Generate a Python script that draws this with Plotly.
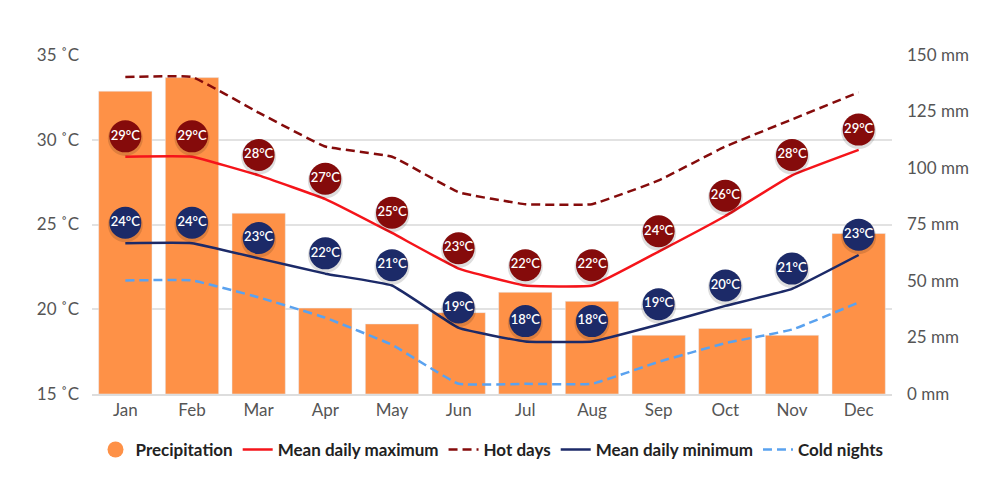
import plotly.graph_objects as go

months = ["Jan", "Feb", "Mar", "Apr", "May", "Jun", "Jul", "Aug", "Sep", "Oct", "Nov", "Dec"]

# precipitation, mm
precipitation = [134, 140, 80, 38, 31, 36, 45, 41, 26, 29, 26, 71]

# temperatures, deg C
mean_max = [29.0, 29.0, 27.9, 26.5, 24.5, 22.4, 21.4, 21.4, 23.4, 25.5, 27.9, 29.4]
hot_days = [33.7, 33.7, 31.6, 29.6, 29.0, 26.9, 26.2, 26.2, 27.6, 29.6, 31.2, 32.8]
mean_min = [23.9, 23.9, 23.0, 22.1, 21.4, 18.9, 18.1, 18.1, 19.1, 20.2, 21.2, 23.2]
cold_nights = [21.7, 21.7, 20.7, 19.5, 17.9, 15.6, 15.6, 15.6, 16.9, 18.0, 18.8, 20.4]

max_labels = [29, 29, 28, 27, 25, 23, 22, 22, 24, 26, 28, 29]
min_labels = [24, 24, 23, 22, 21, 19, 18, 18, 19, 20, 21, 23]

ORANGE = "#fe9147"
RED = "#f5141a"
DARK_RED = "#850b0b"
NAVY = "#1c2a68"
LIGHT_BLUE = "#5aa2ef"
GREY = "#555555"
FONT = "Lato"

BUBBLE_LIFT = 1.2  # bubbles sit a little above their line

fig = go.Figure()

fig.add_trace(go.Bar(x=months, y=precipitation, marker_color=ORANGE, width=0.8,
                     yaxis="y", showlegend=False, hoverinfo="y"))

# legend entry for the bars (round symbol)
fig.add_trace(go.Scatter(x=[None], y=[None], mode="markers", name="Precipitation",
                         marker=dict(color=ORANGE, size=17, symbol="circle"), yaxis="y2"))

line_specs = [
    ("Mean daily maximum", mean_max, RED, "solid"),
    ("Hot days", hot_days, DARK_RED, "9px,5px"),
    ("Mean daily minimum", mean_min, NAVY, "solid"),
    ("Cold nights", cold_nights, LIGHT_BLUE, "9px,5px"),
]
for name, vals, color, dash in line_specs:
    fig.add_trace(go.Scatter(x=months, y=vals, mode="lines", name=name, yaxis="y2",
                             line=dict(color=color, width=2.5, dash=dash, shape="spline", smoothing=0.3)))

# value bubbles
for vals, labels, color in [(mean_max, max_labels, DARK_RED), (mean_min, min_labels, NAVY)]:
    ys = [v + BUBBLE_LIFT for v in vals]
    shadow_ys = [y - 0.12 for y in ys]
    fig.add_trace(go.Scatter(x=months, y=shadow_ys, mode="markers", yaxis="y2", showlegend=False,
                             hoverinfo="skip", marker=dict(size=35, color="rgba(0,0,0,0.13)")))
    fig.add_trace(go.Scatter(x=months, y=ys, mode="markers+text", yaxis="y2", showlegend=False,
                             text=[f"{t}°C" for t in labels], textposition="middle center",
                             textfont=dict(family=FONT, size=13, color="white", weight=600),
                             marker=dict(size=32, color=color, line=dict(width=0)),
                             hoverinfo="skip"))

fig.update_layout(
    width=1000, height=504,
    margin=dict(l=84, r=116, t=47, b=118),
    paper_bgcolor="white", plot_bgcolor="white",
    bargap=0.2,
    font=dict(family=FONT, color=GREY, size=17),
    xaxis=dict(range=[-0.5, 11.5], showgrid=False, showline=True, linecolor="#dddddd", linewidth=2,
               ticks="", tickfont=dict(size=17, color=GREY), automargin=False, fixedrange=True),
    yaxis=dict(side="right", range=[0, 150], dtick=25, ticksuffix=" mm", showgrid=False,
               zeroline=False, ticklabelstandoff=14, automargin=False,
               tickfont=dict(size=17, color=GREY)),
    yaxis2=dict(side="left", overlaying="y", range=[15, 35], dtick=5, ticksuffix=" ˚C",
                showgrid=True, gridcolor="#e2e2e2", gridwidth=2, zeroline=False,
                ticklabelstandoff=12, automargin=False, tickfont=dict(size=17, color=GREY)),
    legend=dict(orientation="h", x=0.5, xanchor="center", y=-0.165, yanchor="middle",
                font=dict(family=FONT, size=17, color="#222222", weight=700),
                itemwidth=30, tracegroupgap=0),
)

fig.write_html("out.html")
